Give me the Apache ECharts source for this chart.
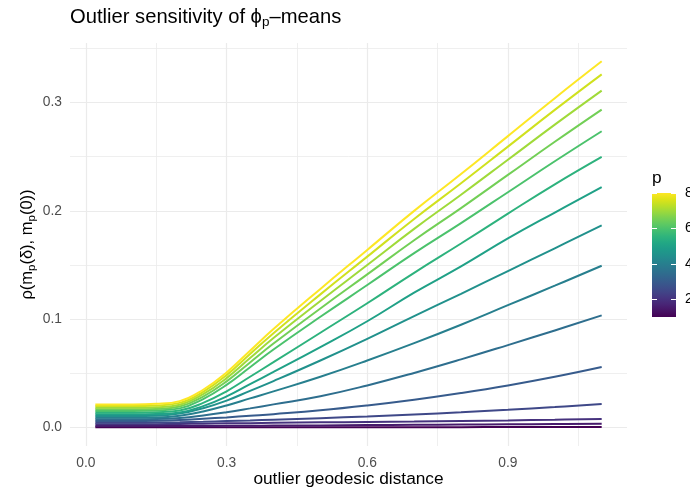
<!DOCTYPE html>
<html>
<head>
<meta charset="utf-8">
<script src="https://cdn.jsdelivr.net/npm/echarts@6/dist/echarts.min.js"></script>
<style>
  html, body { margin: 0; padding: 0; background: #fff; }
  #chart { width: 690px; height: 490px; }
</style>
</head>
<body>
<div id="chart"></div>
<script>
// outlier geodesic distance (x)
const distance = [0.02, 0.1, 0.15, 0.2, 0.25, 0.3, 0.35, 0.4, 0.5, 0.6, 0.7, 0.8, 0.9, 1.0, 1.1]
const pLevels = [1, 1.5, 2, 2.5, 3, 3.5, 4, 4.5, 5, 5.5, 6, 6.5, 7, 7.5, 8]

// rho(m_p(delta), m_p(0)) for each p
const rho_p1_0 = [0.0004, 0.0004, 0.0004, 0.0004, 0.0004, 0.0004, 0.0004, 0.0004, 0.0005, 0.0005, 0.0005, 0.0005, 0.0006, 0.0006, 0.0006]
const rho_p1_5 = [0.0015, 0.0015, 0.0015, 0.0015, 0.0016, 0.0017, 0.0018, 0.0019, 0.0021, 0.0024, 0.0026, 0.0029, 0.0031, 0.0034, 0.0037]
const rho_p2_0 = [0.0031, 0.0031, 0.0032, 0.0034, 0.0037, 0.0040, 0.0042, 0.0045, 0.0049, 0.0053, 0.0057, 0.0062, 0.0067, 0.0073, 0.0080]
const rho_p2_5 = [0.0046, 0.0046, 0.0047, 0.0050, 0.0055, 0.0061, 0.0067, 0.0074, 0.0088, 0.0104, 0.0122, 0.0142, 0.0165, 0.0190, 0.0218]
const rho_p3_0 = [0.0061, 0.0061, 0.0063, 0.0070, 0.0082, 0.0095, 0.0110, 0.0125, 0.0160, 0.0205, 0.0258, 0.0320, 0.0390, 0.0470, 0.0560]
const rho_p3_5 = [0.0077, 0.0077, 0.0079, 0.0090, 0.0113, 0.0143, 0.0178, 0.0215, 0.0290, 0.0390, 0.0505, 0.0630, 0.0762, 0.0897, 0.1036]
const rho_p4_0 = [0.0092, 0.0092, 0.0094, 0.0110, 0.0150, 0.0205, 0.0270, 0.0335, 0.0470, 0.0620, 0.0780, 0.0950, 0.1130, 0.1310, 0.1494]
const rho_p4_5 = [0.0108, 0.0108, 0.0110, 0.0130, 0.0180, 0.0250, 0.0340, 0.0430, 0.0620, 0.0820, 0.1030, 0.1235, 0.1445, 0.1655, 0.1866]
const rho_p5_0 = [0.0123, 0.0123, 0.0126, 0.0140, 0.0199, 0.0289, 0.0402, 0.0514, 0.0743, 0.0982, 0.1246, 0.1488, 0.1746, 0.1985, 0.2219]
const rho_p5_5 = [0.0138, 0.0138, 0.0142, 0.0158, 0.0229, 0.0336, 0.0470, 0.0604, 0.0876, 0.1148, 0.1429, 0.1699, 0.1975, 0.2245, 0.2498]
const rho_p6_0 = [0.0154, 0.0154, 0.0158, 0.0178, 0.0264, 0.0395, 0.0558, 0.0721, 0.1023, 0.1316, 0.1610, 0.1887, 0.2172, 0.2458, 0.2735]
const rho_p6_5 = [0.0169, 0.0169, 0.0173, 0.0195, 0.0287, 0.0427, 0.0602, 0.0776, 0.1100, 0.1414, 0.1729, 0.2026, 0.2332, 0.2638, 0.2935]
const rho_p7_0 = [0.0184, 0.0184, 0.0189, 0.0212, 0.0309, 0.0457, 0.0642, 0.0827, 0.1169, 0.1501, 0.1834, 0.2149, 0.2472, 0.2796, 0.3110]
const rho_p7_5 = [0.0200, 0.0200, 0.0205, 0.0229, 0.0331, 0.0485, 0.0679, 0.0872, 0.1230, 0.1578, 0.1926, 0.2255, 0.2593, 0.2932, 0.3260]
const rho_p8_0 = [0.0215, 0.0215, 0.0220, 0.0245, 0.0350, 0.0510, 0.0710, 0.0910, 0.1280, 0.1640, 0.2000, 0.2340, 0.2690, 0.3040, 0.3380]

const rhoByP = [rho_p1_0, rho_p1_5, rho_p2_0, rho_p2_5, rho_p3_0, rho_p3_5, rho_p4_0, rho_p4_5,
    rho_p5_0, rho_p5_5, rho_p6_0, rho_p6_5, rho_p7_0, rho_p7_5, rho_p8_0]

const xLabels = [0, 0.3, 0.6, 0.9]
const xMinor = [0.15, 0.45, 0.75, 1.05]
const yLabels = [0, 0.1, 0.2, 0.3]
const yMinor = [0.05, 0.15, 0.25, 0.35]
const pLabels = [2, 4, 6, 8]

// viridis, low -> high
const viridis = ['#440154', '#471365', '#482475', '#463480', '#414487', '#3b528b', '#355f8d',
    '#2f6c8e', '#2a788e', '#25848e', '#21918c', '#1e9c89', '#22a884', '#2fb47c', '#44bf70',
    '#5ec962', '#7ad151', '#9bd93c', '#bddf26', '#dfe318', '#fde725']

const hexToRgb = h => [1, 3, 5].map(i => parseInt(h.slice(i, i + 2), 16))
const viridisAt = t => {
    const pos = Math.max(0, Math.min(1, t)) * (viridis.length - 1)
    const i = Math.min(Math.floor(pos), viridis.length - 2)
    const f = pos - i
    const a = hexToRgb(viridis[i]), b = hexToRgb(viridis[i + 1])
    const c = a.map((v, k) => Math.round(v + (b[k] - v) * f))
    return `rgb(${c[0]},${c[1]},${c[2]})`
}

const pMin = 1, pMax = 8
const font = '"Liberation Sans", Arial, Helvetica, sans-serif'
const grey = '#4d4d4d'
const gridColor = '#ebebeb'
const tickSize = 13.8
const titleSize = 17.3

const chart = echarts.init(document.getElementById('chart'), null, { renderer: 'canvas' })

const lineSeries = pLevels.map((p, i) => ({
    type: 'line',
    name: 'p=' + p,
    xAxisIndex: 0,
    yAxisIndex: 0,
    data: distance.map((d, j) => [d, rhoByP[i][j]]),
    smooth: 0.45,
    showSymbol: false,
    symbol: 'none',
    lineStyle: { width: 2, color: viridisAt((p - pMin) / (pMax - pMin)), cap: 'butt' },
    itemStyle: { color: viridisAt((p - pMin) / (pMax - pMin)) },
    z: 3 + i,
}))

const barGradient = {
    type: 'linear', x: 0, y: 0, x2: 0, y2: 1,
    colorStops: viridis.slice().reverse().map((c, i) => ({ offset: i / (viridis.length - 1), color: c })),
}

chart.setOption({
    backgroundColor: '#fff',
    animation: false,
    textStyle: { fontFamily: font },
    title: {
        text: '{t|Outlier sensitivity of ϕ}{s|p}{t|–means}',
        left: 70,
        top: 5,
        padding: 0,
        textStyle: {
            rich: {
                t: { fontFamily: font, fontSize: 20.2, fontWeight: 'normal', color: '#000', lineHeight: 24, verticalAlign: 'middle' },
                s: { fontFamily: font, fontSize: 13.5, fontWeight: 'normal', color: '#000', lineHeight: 24, verticalAlign: 'bottom' },
            },
        },
    },
    graphic: [{
        type: 'text',
        left: 652,
        top: 170,
        style: { text: 'p', fontFamily: font, fontSize: titleSize, fill: '#000' },
    }],
    grid: [
        { left: 70, right: 63, top: 43, bottom: 44, containLabel: false, outerBoundsMode: 'none' },
        { left: 652, width: 24, top: 193, height: 124, containLabel: false, outerBoundsMode: 'none' },
    ],
    xAxis: [
        {
            type: 'value', gridIndex: 0, min: -0.034, max: 1.154,
            axisLine: { show: false },
            axisTick: { show: false, customValues: xLabels },
            axisLabel: { customValues: xLabels, formatter: v => v.toFixed(1), color: grey, fontSize: tickSize, margin: 10, fontFamily: font },
            splitLine: { show: true, lineStyle: { color: gridColor, width: 1.2 } },
            name: 'outlier geodesic distance',
            nameLocation: 'middle',
            nameGap: 25,
            nameMoveOverlap: false,
            nameTextStyle: { color: '#000', fontSize: titleSize, fontFamily: font },
        },
        {
            type: 'value', gridIndex: 0, min: -0.034, max: 1.154, position: 'bottom',
            axisLine: { show: false },
            axisTick: { show: false, customValues: xMinor },
            axisLabel: { show: false },
            splitLine: { show: true, lineStyle: { color: gridColor, width: 0.8 } },
        },
        {
            type: 'category', gridIndex: 1, data: ['p'], show: false,
        },
    ],
    yAxis: [
        {
            type: 'value', gridIndex: 0, min: -0.0169, max: 0.3549,
            axisLine: { show: false },
            axisTick: { show: false, customValues: yLabels },
            axisLabel: { customValues: yLabels, formatter: v => v.toFixed(1), color: grey, fontSize: tickSize, margin: 8, fontFamily: font },
            splitLine: { show: true, lineStyle: { color: gridColor, width: 1.2 } },
            name: '{a|ρ(m}{s|p}{a|(δ), m}{s|p}{a|(0))}',
            nameLocation: 'middle',
            nameRotate: 90,
            nameGap: 32,
            nameMoveOverlap: false,
            nameTextStyle: {
                rich: {
                    a: { fontFamily: font, fontSize: 16.5, color: '#000', lineHeight: 22, verticalAlign: 'middle' },
                    s: { fontFamily: font, fontSize: 11.5, color: '#000', lineHeight: 22, verticalAlign: 'bottom' },
                },
            },
        },
        {
            type: 'value', gridIndex: 0, min: -0.0169, max: 0.3549, position: 'left',
            axisLine: { show: false },
            axisTick: { show: false, customValues: yMinor },
            axisLabel: { show: false },
            splitLine: { show: true, lineStyle: { color: gridColor, width: 0.8 } },
        },
        {
            type: 'value', gridIndex: 1, min: pMin, max: pMax, position: 'left', z: 10,
            axisLine: { show: false },
            axisTick: { show: true, inside: true, length: 5, customValues: pLabels, lineStyle: { color: '#fff', width: 1 } },
            axisLabel: { show: false },
            splitLine: { show: false },
        },
        {
            type: 'value', gridIndex: 1, min: pMin, max: pMax, position: 'right', z: 10,
            axisLine: { show: false },
            axisTick: { show: true, inside: true, length: 5, customValues: pLabels, lineStyle: { color: '#fff', width: 1 } },
            axisLabel: { customValues: pLabels, color: '#000', fontSize: tickSize, margin: 9, fontFamily: font },
            splitLine: { show: false },
        },
    ],
    series: [
        ...lineSeries,
        {
            type: 'bar', xAxisIndex: 2, yAxisIndex: 2, stack: 'cb', barWidth: '100%',
            data: [pMin], itemStyle: { color: 'rgba(0,0,0,0)' }, silent: true,
        },
        {
            type: 'bar', xAxisIndex: 2, yAxisIndex: 2, stack: 'cb', barWidth: '100%',
            data: [pMax - pMin], itemStyle: { color: barGradient }, silent: true,
        },
    ],
})
</script>
</body>
</html>
